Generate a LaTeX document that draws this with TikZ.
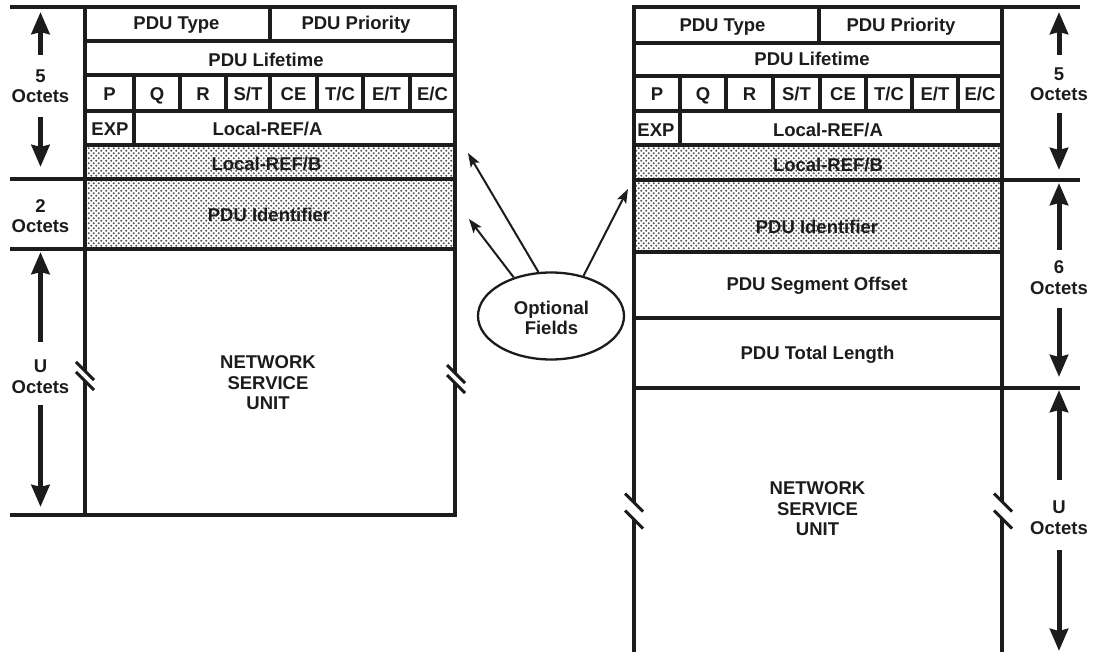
\documentclass[tikz,border=0pt]{standalone}
\usepackage{fontspec}
\setmainfont{Liberation Sans}
\usetikzlibrary{arrows.meta,shapes.geometric,patterns}

% halftone dots used for the optional fields
\pgfdeclarepatternformonly{halftone}{\pgfpoint{-0.5pt}{-0.5pt}}{\pgfpoint{5.5pt}{5.5pt}}{\pgfpoint{5pt}{5pt}}{%
  \pgfpathcircle{\pgfpoint{1.25pt}{1.25pt}}{1.05pt}%
  \pgfpathcircle{\pgfpoint{3.75pt}{3.75pt}}{1.05pt}%
  \pgfusepath{fill}}

\definecolor{ink}{HTML}{1E1B1C}

\tikzset{
  frame/.style={line width=4.5pt, draw=ink},
  thinrule/.style={line width=3.5pt, draw=ink},
  txt/.style={font=\fontsize{18.5}{20.5}\selectfont\bfseries, text=ink, inner sep=0pt},
  lbl/.style={txt, text height=13.3pt, text depth=0pt},
  stack/.style={txt, align=center},
  shade/.style={pattern=halftone, pattern color=black!65},
  span/.style={line width=5pt, draw=ink, -{Stealth[length=22pt,width=18pt,inset=2pt]}},
  ptr/.style={line width=2pt, draw=ink, -{Stealth[length=14pt,width=10pt,inset=3pt]}},
  bubble/.style={ellipse, draw=ink, line width=2.3pt, minimum width=146pt, minimum height=87pt, inner sep=0pt},
}

% break symbol across a vertical rule: centre (#1,#2), slash spacing #3
\newcommand\cutmark[3]{%
  \begin{scope}[shift={(#1,#2)}]
    \draw[white, line width={0.71*#3}] (-6,-6) -- (6,6);
    \draw[ink, line width=3pt] (-9,{-#3/2-9}) -- (9,{-#3/2+9});
    \draw[ink, line width=3pt] (-9,{#3/2-9}) -- (9,{#3/2+9});
  \end{scope}}

\begin{document}
\begin{tikzpicture}[x=1pt,y=-1pt]
\useasboundingbox (0,0) rectangle (1096,652);

% ---------- optional (shaded) fields ----------
\fill[shade] (85,145) rectangle (455,249);
\fill[shade] (634,145) rectangle (1002,252);

% ---------- left header ----------
\draw[frame] (85,7) rectangle (455,515);
\foreach \y in {41,75,111,145,179,249} \draw[frame] (85,\y) -- (455,\y);
\foreach \y in {7,179,249,515} \draw[frame] (10,\y) -- (85,\y);
\draw[frame] (270,7) -- (270,41);
\foreach \x in {134,180,226,270,317,363,410} \draw[frame] (\x,75) -- (\x,111);
\draw[frame] (134,111) -- (134,145);
\cutmark{85}{376}{10}
\cutmark{456}{379}{10}

% ---------- right header ----------
\draw[frame] (1080,7) -- (634,7) -- (634,652);
\draw[frame] (1002,7) -- (1002,652);
\foreach \y in {43,76,111,145,180,252,318,388} \draw[frame] (634,\y) -- (1002,\y);
\draw[thinrule] (1002,180) -- (1080,180);
\draw[thinrule] (1002,388) -- (1080,388);
\draw[frame] (819,7) -- (819,43);
\foreach \x in {680,726,773,820,866,912,958} \draw[frame] (\x,76) -- (\x,111);
\draw[frame] (680,111) -- (680,145);
\cutmark{634}{511}{17}
\cutmark{1003}{511}{17}

% ---------- left field labels ----------
\node[lbl] (aType) at (176.5,23) {PDU Type};
\node[lbl] (aPrio) at (356,23) {PDU Priority};
\node[lbl] (aLife) at (266,60) {PDU Lifetime};
\foreach \t/\x [count=\i] in {P/109.5,Q/157,R/203,S\slash T/248,CE/293.5,T\slash C/340,E\slash T/386.5,E\slash C/432.5}
  \node[lbl] (aFlag\i) at (\x,94) {\t};
\node[lbl] (aExp) at (110,129) {EXP};
\node[lbl] (aRefA) at (267.5,129) {Local-REF/A};
\node[lbl] (aRefB) at (266.5,164) {Local-REF/B};
\node[lbl] (aIdent) at (269,215) {PDU Identifier};
\node[stack] (aNsu) at (268,383) {NETWORK\\SERVICE\\UNIT};

% ---------- right field labels ----------
\node[lbl] (bType) at (722.5,25) {PDU Type};
\node[lbl] (bPrio) at (901,25) {PDU Priority};
\node[lbl] (bLife) at (812,59) {PDU Lifetime};
\foreach \t/\x [count=\i] in {P/657,Q/703,R/749.5,S\slash T/796.5,CE/843,T\slash C/889,E\slash T/935,E\slash C/980}
  \node[lbl] (bFlag\i) at (\x,93.5) {\t};
\node[lbl] (bExp) at (656,130) {EXP};
\node[lbl] (bRefA) at (828,130) {Local-REF/A};
\node[lbl] (bRefB) at (828,165) {Local-REF/B};
\node[lbl] (bIdent) at (817,227) {PDU Identifier};
\node[lbl] (bSeg) at (817,283.5) {PDU Segment Offset};
\node[lbl] (bTot) at (817.5,352.5) {PDU Total Length};
\node[stack] (bNsu) at (817.5,509) {NETWORK\\SERVICE\\UNIT};

% ---------- octet counts ----------
\node[stack] (aFive) at (40.5,86) {5\\Octets};
\node[stack] (aTwo) at (40.5,216) {2\\Octets};
\node[stack] (aU) at (40.5,376.5) {U\\Octets};
\node[stack] (bFive) at (1059,84) {5\\Octets};
\node[stack] (bSix) at (1059,277.5) {6\\Octets};
\node[stack] (bU) at (1059,517.5) {U\\Octets};

\draw[span] (40.5,55) -- (40.5,12);
\draw[span] (40.5,117) -- (40.5,167);
\draw[span] (40.5,342) -- (40.5,252);
\draw[span] (40.5,405) -- (40.5,507);
\draw[span] (1059,55) -- (1059,12);
\draw[span] (1059,113) -- (1059,170);
\draw[span] (1059,250) -- (1059,183);
\draw[span] (1059,308) -- (1059,377);
\draw[span] (1059,480) -- (1059,390);
\draw[span] (1059,550) -- (1059,651);

% ---------- optional-field callout ----------
\node[bubble] (opt) at (551,316) {};
\node[stack] (optText) at (551.5,318) {Optional\\Fields};
\coordinate (toIdentA) at (469,219);
\coordinate (toRefB) at (468,153);
\coordinate (toIdentB) at (628,189);
\draw[ptr] (opt.134) -- (toIdentA);
\draw[ptr] (opt.106) -- (toRefB);
\draw[ptr] (opt.51) -- (toIdentB);
\end{tikzpicture}
\end{document}
